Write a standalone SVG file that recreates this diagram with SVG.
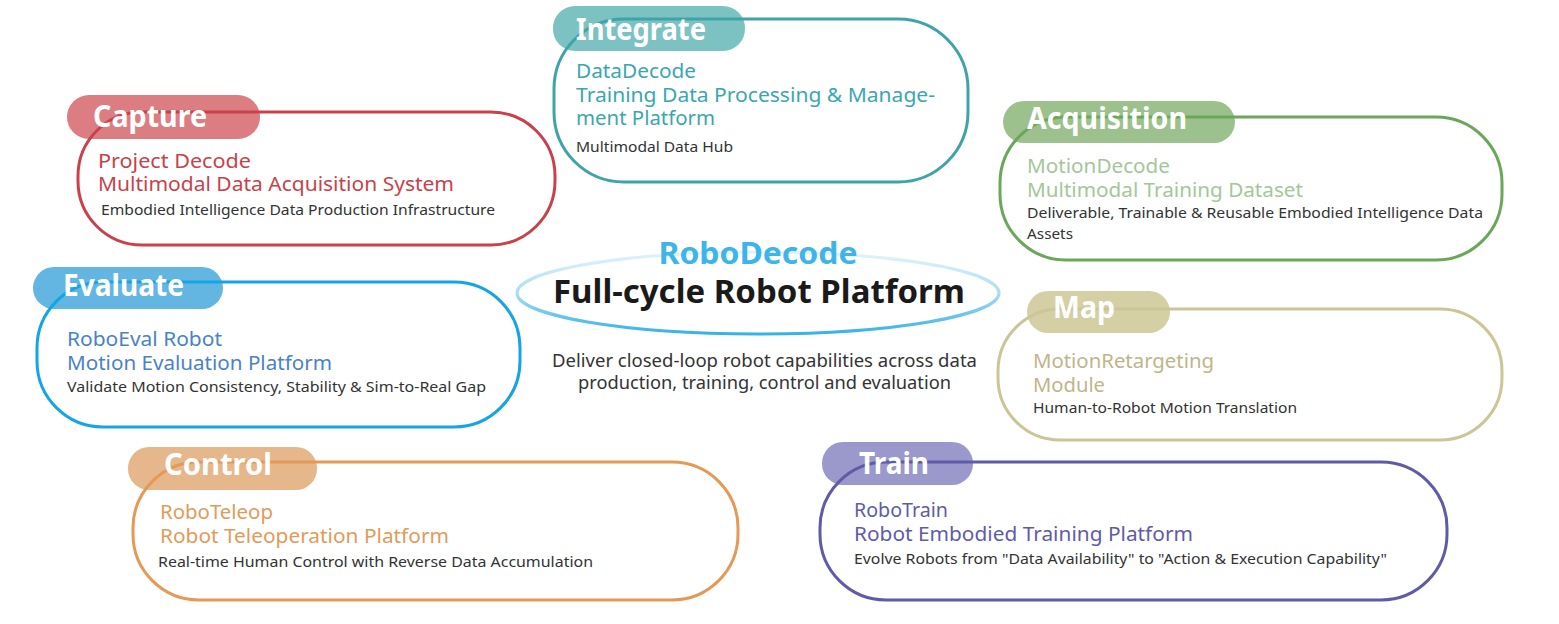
<svg xmlns="http://www.w3.org/2000/svg" width="1559" height="624" viewBox="0 0 1559 624">
<defs>
<linearGradient id="ringGrad" x1="0" y1="0" x2="0" y2="1">
<stop offset="0" stop-color="#E3F3FB"/>
<stop offset="0.5" stop-color="#A9DDF4"/>
<stop offset="1" stop-color="#35B2E8"/>
</linearGradient>
<style>
text{font-family:"Noto Sans","Liberation Sans",sans-serif;}
.box{fill:none;stroke-width:3;}
.title{font-size:30px;font-weight:bold;fill:#ffffff;}
.main{font-size:20px;}
.small{font-size:14.5px;fill:#333333;}
.c-cap .box{stroke:#C9424B;} .c-cap .tab{fill:#DC7D82;} .c-cap .main{fill:#C9424B;}
.c-int .box{stroke:#3FA4A7;} .c-int .tab{fill:#7DC2C3;} .c-int .main{fill:#3AA7AE;}
.c-acq .box{stroke:#6AA75A;} .c-acq .tab{fill:#9DC18C;} .c-acq .main{fill:#A5C69A;}
.c-eva .box{stroke:#15A5E5;} .c-eva .tab{fill:#62B6E1;} .c-eva .main{fill:#4A82C8;}
.c-map .box{stroke:#CCC597;} .c-map .tab{fill:#D5CFA6;} .c-map .main{fill:#BFB58A;}
.c-con .box{stroke:#E49A56;} .c-con .tab{fill:#E7B78C;} .c-con .main{fill:#E29B58;}
.c-tra .box{stroke:#5F5BA8;} .c-tra .tab{fill:#9B98CB;} .c-tra .main{fill:#5F5BA8;}
</style>
</defs>
<rect x="0" y="0" width="1559" height="624" fill="#ffffff"/>
<g id="connectors"></g>

<g id="center">
<ellipse cx="758" cy="293" rx="241" ry="41" fill="none" stroke="url(#ringGrad)" stroke-width="3.2"/>
<text x="758" y="264" text-anchor="middle" font-size="30" font-weight="bold" fill="#3DB5E9" textLength="199" lengthAdjust="spacingAndGlyphs">RoboDecode</text>
<text x="759" y="303" text-anchor="middle" font-size="33" font-weight="bold" fill="#1A1A1A" textLength="412" lengthAdjust="spacingAndGlyphs">Full-cycle Robot Platform</text>
<text x="764.5" y="367" text-anchor="middle" font-size="18" fill="#333333" textLength="425" lengthAdjust="spacingAndGlyphs">Deliver closed-loop robot capabilities across data</text>
<text x="764.5" y="389" text-anchor="middle" font-size="18" fill="#333333" textLength="373" lengthAdjust="spacingAndGlyphs">production, training, control and evaluation</text>
</g>

<g id="capture" class="c-cap">
<rect class="tab" x="67" y="95" width="193" height="44" rx="22"/>
<rect class="box" x="78" y="112" width="477" height="133" rx="64"/>
<text class="title" x="93" y="127" textLength="114" lengthAdjust="spacingAndGlyphs">Capture</text>
<text class="main" x="98" y="168" textLength="153" lengthAdjust="spacingAndGlyphs">Project Decode</text>
<text class="main" x="98" y="191" textLength="356" lengthAdjust="spacingAndGlyphs">Multimodal Data Acquisition System</text>
<text class="small" x="101" y="215" textLength="394" lengthAdjust="spacingAndGlyphs">Embodied Intelligence Data Production Infrastructure</text>
</g>

<g id="integrate" class="c-int">
<rect class="tab" x="553" y="6" width="192" height="45" rx="22"/>
<rect class="box" x="554" y="19" width="414" height="163" rx="70"/>
<text class="title" x="576" y="40" font-size="31" textLength="130" lengthAdjust="spacingAndGlyphs">Integrate</text>
<text class="main" x="576" y="78" textLength="120" lengthAdjust="spacingAndGlyphs">DataDecode</text>
<text class="main" x="576" y="102" textLength="359" lengthAdjust="spacingAndGlyphs">Training Data Processing &amp; Manage-</text>
<text class="main" x="576" y="125" textLength="139" lengthAdjust="spacingAndGlyphs">ment Platform</text>
<text class="small" x="576" y="152" textLength="157" lengthAdjust="spacingAndGlyphs">Multimodal Data Hub</text>
</g>

<g id="acquisition" class="c-acq">
<rect class="tab" x="1003" y="101" width="232" height="42" rx="21"/>
<rect class="box" x="1000" y="117" width="502" height="143" rx="66"/>
<text class="title" x="1027" y="129" textLength="160" lengthAdjust="spacingAndGlyphs">Acquisition</text>
<text class="main" x="1027" y="173" textLength="143" lengthAdjust="spacingAndGlyphs">MotionDecode</text>
<text class="main" x="1027" y="197" textLength="276" lengthAdjust="spacingAndGlyphs">Multimodal Training Dataset</text>
<text class="small" x="1027" y="218" textLength="456" lengthAdjust="spacingAndGlyphs">Deliverable, Trainable &amp; Reusable Embodied Intelligence Data</text>
<text class="small" x="1027" y="239" textLength="46" lengthAdjust="spacingAndGlyphs">Assets</text>
</g>

<g id="evaluate" class="c-eva">
<rect class="tab" x="33" y="267" width="190" height="42" rx="21"/>
<rect class="box" x="37" y="282" width="483" height="145" rx="66"/>
<text class="title" x="63" y="296" textLength="121" lengthAdjust="spacingAndGlyphs">Evaluate</text>
<text class="main" x="67" y="346" textLength="155" lengthAdjust="spacingAndGlyphs">RoboEval Robot</text>
<text class="main" x="67" y="370" textLength="265" lengthAdjust="spacingAndGlyphs">Motion Evaluation Platform</text>
<text class="small" x="67" y="392" textLength="419" lengthAdjust="spacingAndGlyphs">Validate Motion Consistency, Stability &amp; Sim-to-Real Gap</text>
</g>

<g id="map" class="c-map">
<rect class="tab" x="1027" y="291" width="143" height="42" rx="21"/>
<rect class="box" x="998" y="309" width="504" height="131" rx="62"/>
<text class="title" x="1053" y="318" textLength="62" lengthAdjust="spacingAndGlyphs">Map</text>
<text class="main" x="1033" y="368" textLength="181" lengthAdjust="spacingAndGlyphs">MotionRetargeting</text>
<text class="main" x="1033" y="392" textLength="72" lengthAdjust="spacingAndGlyphs">Module</text>
<text class="small" x="1033" y="413" textLength="264" lengthAdjust="spacingAndGlyphs">Human-to-Robot Motion Translation</text>
</g>

<g id="control" class="c-con">
<rect class="tab" x="128" y="447" width="189" height="43" rx="21"/>
<rect class="box" x="133" y="462" width="605" height="138" rx="66"/>
<text class="title" x="164" y="475" textLength="108" lengthAdjust="spacingAndGlyphs">Control</text>
<text class="main" x="160" y="519" textLength="113" lengthAdjust="spacingAndGlyphs">RoboTeleop</text>
<text class="main" x="160" y="543" textLength="289" lengthAdjust="spacingAndGlyphs">Robot Teleoperation Platform</text>
<text class="small" x="158" y="567" textLength="435" lengthAdjust="spacingAndGlyphs">Real-time Human Control with Reverse Data Accumulation</text>
</g>

<g id="train" class="c-tra">
<rect class="tab" x="822" y="442" width="151" height="43" rx="21"/>
<rect class="box" x="820" y="462" width="627" height="138" rx="66"/>
<text class="title" x="859" y="474" textLength="70" lengthAdjust="spacingAndGlyphs">Train</text>
<text class="main" x="854" y="517" textLength="94" lengthAdjust="spacingAndGlyphs">RoboTrain</text>
<text class="main" x="854" y="541" textLength="339" lengthAdjust="spacingAndGlyphs">Robot Embodied Training Platform</text>
<text class="small" x="854" y="564" textLength="533" lengthAdjust="spacingAndGlyphs">Evolve Robots from "Data Availability" to "Action &amp; Execution Capability"</text>
</g>
</svg>
